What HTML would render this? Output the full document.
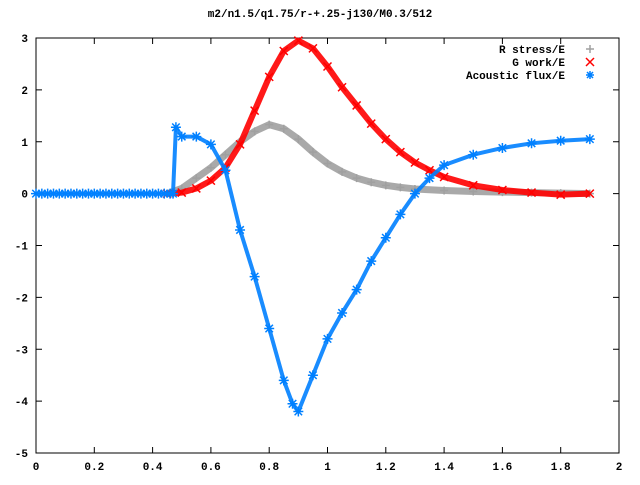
<!DOCTYPE html>
<html><head><meta charset="utf-8"><style>
body{margin:0;background:#fff;}
svg text{font-family:"Liberation Mono",monospace;font-size:11px;font-weight:bold;fill:#000;}
</style></head><body>
<svg id="chart" width="640" height="480" xmlns="http://www.w3.org/2000/svg">
<rect width="640" height="480" fill="#fff"/>
<text x="320" y="17" text-anchor="middle">m2/n1.5/q1.75/r-+.25-j130/M0.3/512</text>
<g id="axes"></g>
<g id="series"></g>
<g id="legend">
<text x="565" y="53" text-anchor="end">R stress/E</text>
<text x="565" y="66" text-anchor="end">G work/E</text>
<text x="565" y="79" text-anchor="end">Acoustic flux/E</text>
</g>
</svg>
<script>
const xTicks=[0,0.2,0.4,0.6,0.8,1,1.2,1.4,1.6,1.8,2];
const yTicks=[-5,-4,-3,-2,-1,0,1,2,3];
const rX=[0.45,0.5,0.55,0.6,0.65,0.7,0.75,0.8,0.85,0.9,0.95,1.0,1.05,1.1,1.15,1.2,1.25,1.3,1.4,1.5,1.6,1.7,1.8,1.9];
const rY=[0,0.1,0.3,0.5,0.75,1.0,1.2,1.33,1.25,1.05,0.8,0.58,0.42,0.3,0.22,0.16,0.12,0.09,0.06,0.04,0.03,0.02,0.01,0];
const gX=[0.45,0.5,0.55,0.6,0.65,0.7,0.75,0.8,0.85,0.9,0.95,1.0,1.05,1.1,1.15,1.2,1.25,1.3,1.35,1.4,1.5,1.6,1.7,1.8,1.9];
const gY=[0,0.02,0.1,0.25,0.5,0.95,1.6,2.25,2.75,2.95,2.8,2.45,2.05,1.7,1.35,1.05,0.8,0.6,0.45,0.32,0.16,0.07,0.02,-0.02,0];
const aX=[0,0.02,0.04,0.06,0.08,0.1,0.12,0.14,0.16,0.18,0.2,0.22,0.24,0.26,0.28,0.3,0.32,0.34,0.36,0.38,0.4,0.42,0.44,0.46,0.47,0.48,0.5,0.55,0.6,0.65,0.7,0.75,0.8,0.85,0.88,0.9,0.95,1.0,1.05,1.1,1.15,1.2,1.25,1.3,1.35,1.4,1.5,1.6,1.7,1.8,1.9];
const aY=[0,0,0,0,0,0,0,0,0,0,0,0,0,0,0,0,0,0,0,0,0,0,0,0,0,1.28,1.1,1.1,0.95,0.45,-0.7,-1.6,-2.6,-3.6,-4.05,-4.2,-3.5,-2.8,-2.3,-1.85,-1.3,-0.85,-0.4,0,0.3,0.55,0.75,0.88,0.97,1.02,1.05];
const L=36,R=619,T=38,B=453,xmin=0,xmax=2,ymin=-5,ymax=3;
const sx=v=>L+(v-xmin)/(xmax-xmin)*(R-L);
const sy=v=>B-(v-ymin)/(ymax-ymin)*(B-T);
const NS="http://www.w3.org/2000/svg";
function mk(tag,attrs,parent){const e=document.createElementNS(NS,tag);for(const k in attrs)e.setAttribute(k,attrs[k]);parent.appendChild(e);return e;}
const axes=document.getElementById('axes');
const frame=mk('rect',{x:L,y:T,width:R-L,height:B-T,fill:'none',stroke:'#000','stroke-width':1},axes);


xTicks.forEach(t=>{const x=sx(t);
 const tk=mk('path',{d:`M${x} ${B}v-6M${x} ${T}v6`,stroke:'#000'},axes);
 
 
 const tx=mk('text',{x:x,y:470,'text-anchor':'middle'},axes);tx.textContent=String(t);
 
 });
yTicks.forEach(t=>{const y=sy(t);
 const tk=mk('path',{d:`M${L} ${y}h6M${R} ${y}h-6`,stroke:'#000'},axes);
 
 
 const tx=mk('text',{x:28,y:y+4,'text-anchor':'end'},axes);tx.textContent=String(t);
 
 });
const ser=document.getElementById('series');
function marker(type,x,y,c,parent,s){
 s=s||4;let d;
 if(type==='+')d=`M${x-s} ${y}h${2*s}M${x} ${y-s}v${2*s}`;
 else if(type==='x')d=`M${x-s} ${y-s}l${2*s} ${2*s}M${x-s} ${y+s}l${2*s} ${-2*s}`;
 else {const k=s*0.75;d=`M${x-s} ${y}h${2*s}M${x} ${y-s}v${2*s}M${x-k} ${y-k}l${2*k} ${2*k}M${x-k} ${y+k}l${2*k} ${-2*k}`;}
 return mk('path',{d:d,stroke:c,'stroke-width':1.5,fill:'none'},parent);
}
function series(xs,ys,type,c,w,name,s){
 const g=mk('g',{},ser);
 
 
 const pts=xs.map((v,i)=>sx(v)+','+sy(ys[i])).join(' ');
 const pl=mk('polyline',{points:pts,fill:'none',stroke:c,'stroke-width':w,'stroke-linejoin':'round','stroke-opacity':0.9},g);
 
 
 xs.forEach((v,i)=>{const m=marker(type,sx(v),sy(ys[i]),c,g,s);
  
  });
}
series(rX,rY,'+','#a0a0a0',7,'r-stress-series',4);
series(gX,gY,'x','#ff0000',6,'g-work-series',4);
series(aX,aY,'*','#0080ff',4,'acoustic-flux-series',5);
const lg=document.getElementById('legend');
const m1=marker('+',590,49,'#a0a0a0',lg);


const m2=marker('x',590,62,'#ff0000',lg);


const m3=marker('*',590,75,'#0080ff',lg);


</script>
</body></html>
